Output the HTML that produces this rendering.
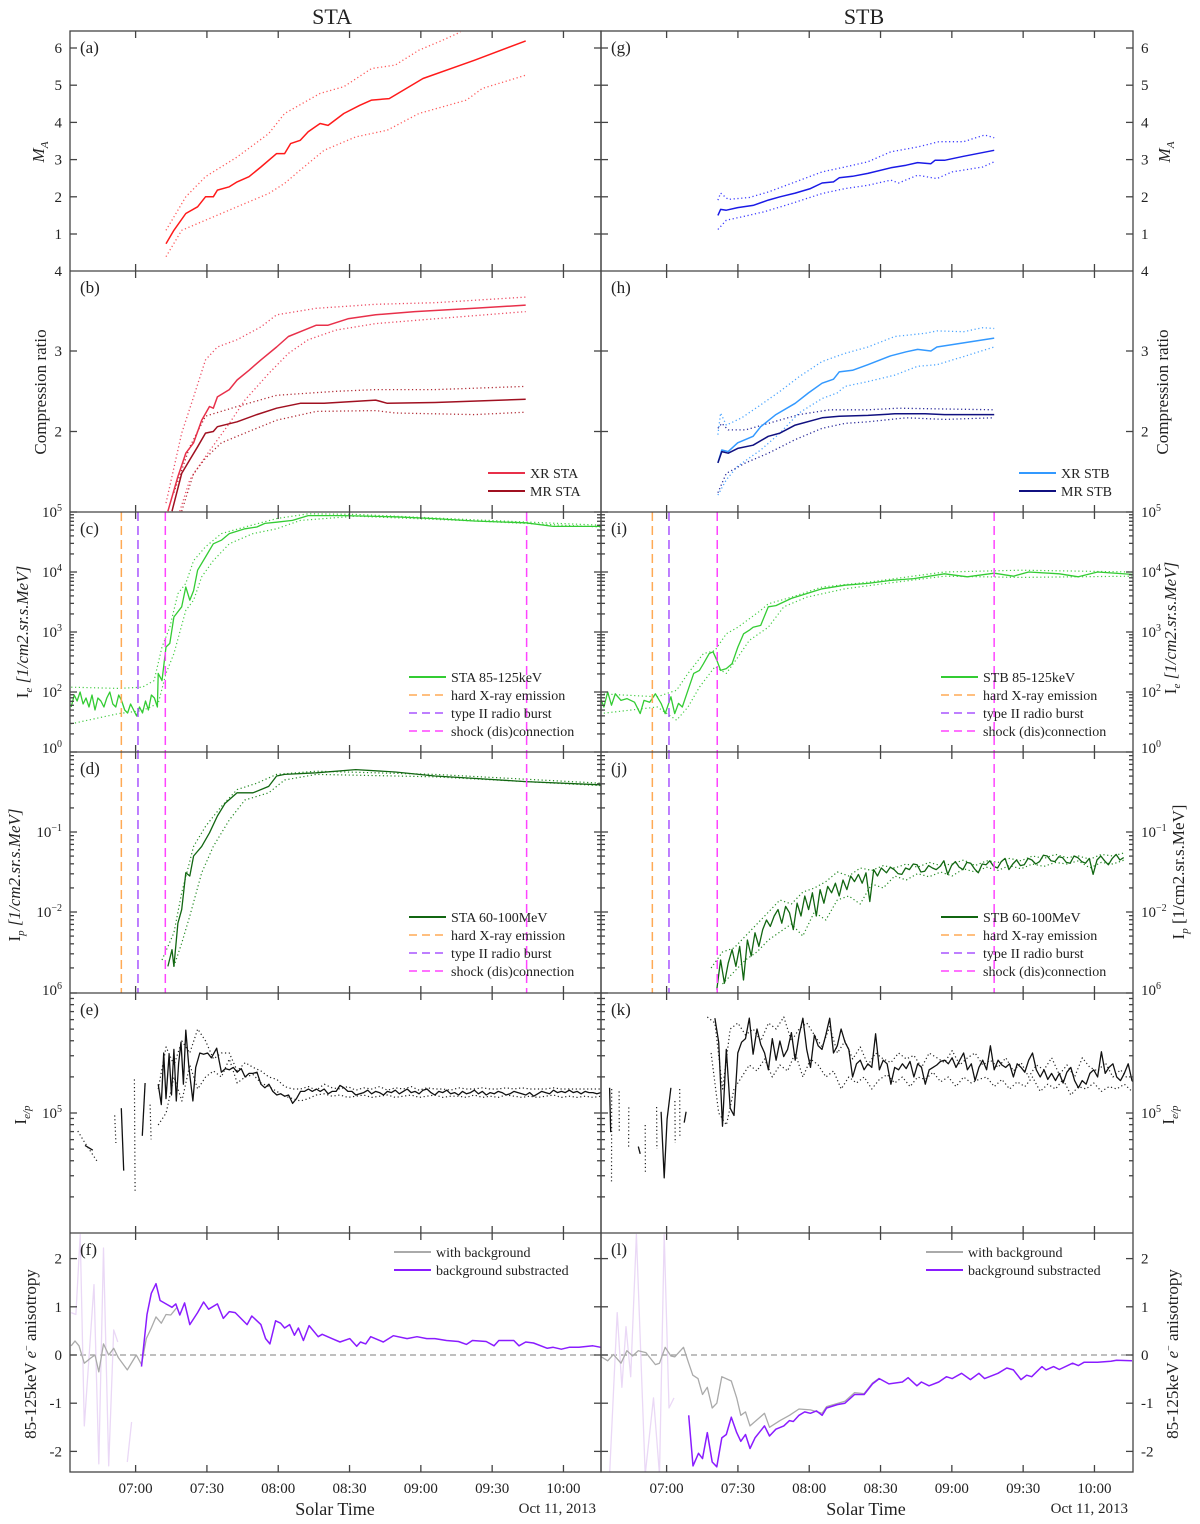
<!DOCTYPE html>
<html><head><meta charset="utf-8"><style>
html,body{margin:0;padding:0;background:#fff;}
svg{display:block;font-family:"Liberation Serif",serif;}
</style></head><body>
<svg id="fig" width="1200" height="1524" viewBox="0 0 1200 1524" xmlns="http://www.w3.org/2000/svg">
<rect x="0" y="0" width="1200" height="1524" fill="#fff"/>
</svg>
<script>
// ---- axis constants ----
const T0=32.4, PX=2.377, LX=70, RX=601;
// ---- event times (minutes after 06:00) ----
const staEvents=[54,61,72.5,224.5];
const stbEvents=[54,61,81.3,197.8];
const xTicks=[60,90,120,150,180,210,240];
const xTickLabels=["07:00","07:30","08:00","08:30","09:00","09:30","10:00"];
// ---- (a) STA Mach ----
const staMaT=[72.8,76.1,81.1,86.1,89.4,92.7,94.4,99.4,102.7,107.7,112.7,119.3,122.7,125.2,129.3,132.6,137.6,141,147.6,154.3,159.3,166.7,180.9,202.5,224.1];
const staMaV=[0.74,1.1,1.55,1.73,2.0,2.0,2.18,2.27,2.4,2.54,2.8,3.16,3.16,3.43,3.52,3.75,3.97,3.92,4.24,4.46,4.6,4.64,5.18,5.67,6.19];
const staMaUpT=[72.8,81.1,89.4,102.7,116,122.7,137.6,147.6,159.3,169.2,179.2,189.2,196.7];
const staMaUpV=[1.1,2.0,2.54,3.07,3.7,4.24,4.78,4.96,5.45,5.54,5.94,6.21,6.43];
const staMaLoT=[72.8,79.4,89.4,102.7,116,122.7,129.3,139.3,152.6,165.9,179.2,199.2,205.8,224.1];
const staMaLoV=[0.39,1.1,1.37,1.73,2.09,2.36,2.72,3.25,3.61,3.79,4.24,4.6,4.91,5.27];
// ---- (g) STB Mach ----
const stbMaT=[81.6,82.7,85.1,89.9,96.4,102.8,107.7,114.1,120.5,125.4,130.2,132.6,138.2,144.7,154.3,160.8,165.6,171.2,172.9,176.9,184.9,197.8];
const stbMaV=[1.5,1.66,1.64,1.71,1.77,1.91,2.0,2.1,2.22,2.37,2.4,2.51,2.55,2.63,2.78,2.85,2.92,2.89,2.98,2.98,3.09,3.25];
const stbMaUpT=[81.6,82.7,85.9,94.8,102.8,112.5,125.4,135,144.7,154.3,165.6,174.5,184.9,193.8,197.8];
const stbMaUpV=[1.91,2.1,1.93,1.98,2.13,2.36,2.67,2.8,2.94,3.21,3.34,3.48,3.48,3.66,3.59];
const stbMaLoT=[81.6,85.1,91.6,101.2,112.5,125.4,135,144.7,154.3,157.6,165.6,173.7,180.1,193,197.8];
const stbMaLoV=[1.12,1.37,1.46,1.6,1.82,2.09,2.22,2.31,2.45,2.37,2.58,2.49,2.67,2.8,2.94];
// ---- (b) STA compression ----
const staXrT=[73.6,77.8,81.1,84.4,87.8,91.1,92.7,94.4,99.4,102.7,107.7,112.7,119.3,124.3,129.3,136,141,149.3,161,177.5,202.5,224.1];
const staXrV=[1.01,1.44,1.73,1.86,2.14,2.31,2.29,2.43,2.52,2.64,2.76,2.89,3.05,3.18,3.24,3.32,3.32,3.4,3.45,3.49,3.53,3.57];
const staXrUpT=[72.8,79.4,84.4,89.4,94.4,102.7,112.7,119.3,136,161,185.9,224.1];
const staXrUpV=[1.11,1.98,2.43,2.89,3.05,3.14,3.3,3.45,3.53,3.58,3.6,3.67];
const staXrLoT=[78.6,82.8,89.4,99.4,106,116,124.3,132.6,144.3,161,185.9,224.1];
const staXrLoV=[1.01,1.4,1.69,2.1,2.39,2.72,2.97,3.14,3.26,3.34,3.4,3.49];
const staMrT=[75.3,79.4,82.8,86.1,89.4,92.7,94.4,102.7,111,119.3,129.3,139.3,161,165.9,185.9,224.1];
const staMrV=[1.01,1.48,1.65,1.81,1.98,2.0,2.06,2.12,2.21,2.29,2.35,2.35,2.39,2.35,2.36,2.4];
const staMrUpT=[76.1,82.8,89.4,102.7,119.3,144.3,161,185.9,224.1];
const staMrUpV=[1.24,1.81,2.19,2.31,2.45,2.5,2.52,2.52,2.56];
const staMrLoT=[79.4,84.4,89.4,96.1,106,119.3,136,161,169.2,202.5,224.1];
const staMrLoV=[1.01,1.48,1.67,1.86,1.98,2.14,2.25,2.26,2.23,2.21,2.24];
// ---- (h) STB compression ----
const stbXrT=[81.6,83.2,85.9,89.9,96.4,99.6,106,114.1,119.7,125.4,130.2,132.6,138.2,144.7,154.3,160.8,165.6,171.2,173.7,184.9,197.8];
const stbXrV=[1.61,1.77,1.75,1.86,1.94,2.06,2.21,2.35,2.48,2.6,2.65,2.74,2.76,2.83,2.94,2.99,3.02,3.0,3.05,3.1,3.16];
const stbXrUpT=[81.6,82.7,85.1,91.6,99.6,107.7,115.7,125.4,135,144.7,156,168.8,173.7,184.9,193,197.8];
const stbXrUpV=[1.96,2.23,2.08,2.17,2.33,2.5,2.68,2.87,2.97,3.05,3.18,3.22,3.25,3.24,3.29,3.28];
const stbXrLoT=[81.6,85.1,89.9,99.6,107.7,115.7,125.4,131.8,135,144.7,156,165.6,173.7,184.9,197.8];
const stbXrLoV=[1.21,1.4,1.57,1.77,1.98,2.23,2.41,2.48,2.56,2.62,2.7,2.81,2.83,2.93,3.05];
const stbMrT=[81.6,83.2,85.9,89.9,96.4,102.8,107.7,114.1,125.4,132.6,144.7,156,168.8,176.9,197.8];
const stbMrV=[1.61,1.75,1.73,1.79,1.83,1.94,1.98,2.08,2.17,2.19,2.2,2.22,2.22,2.21,2.21];
const stbMrUpT=[81.6,83.2,85.9,93.2,102.8,115.7,128.6,144.7,157.6,197.8];
const stbMrUpV=[2.04,2.1,2.02,2.02,2.1,2.21,2.27,2.27,2.29,2.27];
const stbMrLoT=[81.6,85.1,93.2,102.8,114.1,125.4,135,144.7,160.8,176.9,197.8];
const stbMrLoV=[1.24,1.48,1.61,1.73,1.9,2.04,2.1,2.12,2.17,2.15,2.17];
// ---- (c) STA electrons, log10 ----
const staIeBaseT0=32.9, staIeBaseDt=1.25;
const staIeBaseV=[1.75,1.95,1.85,2.0,1.8,1.9,1.75,1.95,1.7,1.9,1.85,1.75,1.9,2.0,1.8,1.75,1.95,1.85,1.7,1.65,1.8,1.7,1.6,1.75,1.65,1.85,1.7,1.95,1.9,1.75];
const staIeT=[69.5,71.1,72.8,74.4,76.1,79.4,81.1,82.8,84.4,86.1,89.4,92.7,96.1,99.4,106,111,114.4,119.3,126,132.6,147.6,169.2,185.9,202.5,224.1,235.7,255.7];
const staIeV=[2.31,2.19,2.75,2.81,3.25,3.42,3.75,3.53,3.69,4.03,4.25,4.47,4.53,4.64,4.72,4.75,4.81,4.83,4.86,4.94,4.94,4.92,4.89,4.85,4.82,4.76,4.76];
const staIeUpT=[32.9,52.8,62.8,67.8,71.1,74.4,77.8,81.1,84.4,89.4,96.1,106,119.3,132.6,152.6,202.5,255.7];
const staIeUpV=[2.08,2.06,2.08,2.19,2.75,3.08,3.64,3.81,4.19,4.42,4.64,4.75,4.89,4.97,4.96,4.87,4.78];
const staIeLoT=[32.9,52.8,62.8,69.5,72.8,76.1,81.1,84.4,87.8,92.7,99.4,109.4,119.3,129.3,152.6,202.5,255.7];
const staIeLoV=[1.47,1.64,1.69,1.81,2.31,2.64,3.36,3.53,3.92,4.19,4.47,4.64,4.72,4.86,4.93,4.85,4.75];
// ---- (i) STB electrons ----
const stbIeT=[32,33.6,35.2,36.8,38.4,40.8,43.3,46.5,48.9,50.5,52.9,55.3,57.7,59.4,61.8,63.4,65,66.6,69,71.4,73.8,75.5,77.9,79.5,81.1,82.7,85.1,87.5,90,92.4,94.8,96.4,99.6,102.8,106,112.5,118.9,125.4,135,144.7,154.3,164,176.9,186.5,197.8,205.9,212.3,225.2,233.2,241.3,255.8];
const stbIeV=[1.92,1.75,2.0,1.78,1.97,1.86,1.89,1.83,1.64,1.86,1.83,1.97,1.81,1.64,1.92,1.64,1.81,1.75,2.03,2.31,2.36,2.47,2.64,2.67,2.53,2.36,2.39,2.47,2.75,2.97,3.03,3.08,3.11,3.42,3.44,3.56,3.64,3.72,3.78,3.81,3.86,3.89,3.97,3.92,3.98,3.93,4.0,3.97,3.92,4.0,3.96];
const stbIeUpT=[32,56.1,64.2,69,75.5,80.3,85.1,90,99.6,102.8,112.5,125.4,144.7,176.9,209,255.8];
const stbIeUpV=[1.97,1.92,2.03,2.31,2.64,2.69,2.97,3.08,3.36,3.47,3.58,3.75,3.83,4.0,4.03,4.0];
const stbIeLoT=[32,56.1,64.2,69,73.8,80.3,85.1,90,94.8,102.8,109.3,118.9,135,154.3,176.9,209,255.8];
const stbIeLoV=[1.64,1.75,1.53,1.75,2.08,2.42,2.31,2.58,2.86,3.08,3.42,3.58,3.72,3.82,3.93,3.91,3.93];
// ---- (d) STA protons, log10 ----
const staIpT=[73.6,75.3,76.1,77.8,79.4,81.1,82.8,84.4,87.8,91.1,94.4,97.7,102.7,109.4,116,119.3,122.7,136,152.6,169.2,185.9,202.5,224.1,255.7];
const staIpV=[-2.68,-2.47,-2.68,-2.14,-1.97,-1.51,-1.55,-1.3,-1.18,-1.01,-0.8,-0.64,-0.51,-0.51,-0.43,-0.3,-0.28,-0.26,-0.22,-0.25,-0.3,-0.33,-0.37,-0.41];
const staIpUpT=[71.1,76.1,79.4,84.4,89.4,96.1,102.7,111,119.3,136,185.9,255.7];
const staIpUpV=[-2.6,-2.26,-1.76,-1.18,-0.93,-0.68,-0.47,-0.39,-0.28,-0.24,-0.28,-0.39];
const staIpLoT=[76.1,79.4,82.8,87.8,92.7,99.4,106,116,122.7,136,185.9,255.7];
const staIpLoV=[-2.68,-2.39,-2.05,-1.51,-1.18,-0.85,-0.6,-0.51,-0.35,-0.28,-0.31,-0.42];
// ---- (j) STB protons ----
const stbIpAT0=81.1, stbIpADt=1.61;
const stbIpAV=[-2.97,-2.6,-2.89,-2.64,-2.47,-2.68,-2.43,-2.85,-2.35,-2.55,-2.26,-2.43,-2.22,-2.1,-2.18,-2.05,-1.97,-2.14,-1.93,-2.01,-2.22,-1.89,-2.05,-1.8,-1.97,-1.76,-2.05,-1.72,-1.89,-1.68,-1.76,-1.64,-1.8,-1.6,-1.72,-1.55,-1.62,-1.53,-1.64,-1.51,-1.87,-1.47,-1.55,-1.45];
const stbIpBT0=152.5, stbIpBDt=1.61;
const stbIpBV=[-1.51,-1.44,-1.47,-1.52,-1.53,-1.45,-1.47,-1.4,-1.41,-1.5,-1.49,-1.42,-1.45,-1.47,-1.43,-1.36,-1.53,-1.42,-1.37,-1.44,-1.47,-1.38,-1.39,-1.46,-1.51,-1.4,-1.41,-1.36,-1.43,-1.45,-1.37,-1.33,-1.47,-1.4,-1.35,-1.42,-1.41,-1.33,-1.35,-1.4,-1.37,-1.29,-1.3,-1.36,-1.37,-1.31,-1.32,-1.38,-1.39,-1.3,-1.32,-1.37,-1.39,-1.33,-1.53,-1.35,-1.3,-1.36,-1.41,-1.33,-1.28,-1.35,-1.32];
const stbIpUpT0=78.7, stbIpUpDt=4.83;
const stbIpUpV=[-2.7,-2.5,-2.45,-2.3,-2.15,-2.0,-1.85,-1.9,-1.75,-1.7,-1.62,-1.5,-1.55,-1.45,-1.48,-1.42,-1.45,-1.4,-1.44,-1.38,-1.42,-1.4,-1.35,-1.42,-1.36,-1.38,-1.33,-1.36,-1.3,-1.33,-1.28,-1.32,-1.3,-1.34,-1.28,-1.3,-1.26];
const stbIpLoT0=83.5, stbIpLoDt=4.83;
const stbIpLoV=[-2.9,-2.75,-2.6,-2.5,-2.35,-2.25,-2.15,-2.3,-2.0,-2.1,-1.85,-1.8,-1.9,-1.65,-1.7,-1.55,-1.6,-1.52,-1.56,-1.5,-1.55,-1.46,-1.5,-1.44,-1.48,-1.42,-1.46,-1.4,-1.43,-1.38,-1.4,-1.36,-1.45,-1.38,-1.4,-1.35];
// ---- (e) STA ratio, log10 ----
const staReAT=[69.5,70.8,71.8,72.8,74.1,75.1,76.1,77.1,78.1,79.1,80.1,81.1,82.4,84.1,85.3,87,88.6,90.3,91.9,94.1];
const staReAV=[5.24,5.07,5.5,5.12,5.49,5.15,5.53,5.1,5.41,5.59,5.24,5.69,5.38,5.1,5.38,5.5,5.49,5.5,5.46,5.54];
const staReBT0=96.1, staReBDt=1.663;
const staReBV=[5.34,5.37,5.36,5.38,5.34,5.37,5.3,5.33,5.33,5.34,5.24,5.21,5.24,5.18,5.15,5.16,5.14,5.15,5.08,5.12,5.18,5.18,5.2,5.18,5.2,5.18,5.2,5.16,5.18,5.18,5.23,5.21,5.18,5.18,5.15,5.16,5.17,5.19,5.16,5.18,5.17,5.15,5.18,5.17,5.19,5.16,5.18,5.2,5.17,5.18,5.16,5.19,5.2,5.17,5.15,5.18,5.17,5.19,5.16,5.17,5.15,5.18,5.16,5.17,5.19,5.16,5.18,5.15,5.17,5.16,5.18,5.17,5.15,5.16,5.18,5.17,5.16,5.15,5.17,5.14,5.16,5.18,5.17,5.16,5.19,5.17,5.18,5.17,5.19,5.17,5.18,5.16,5.18,5.17,5.17,5.16,5.17];
const staReUpT0=69.5, staReUpDt=3.326;
const staReUpV=[5.2,5.55,5.4,5.6,5.5,5.7,5.6,5.45,5.5,5.5,5.35,5.42,5.38,5.35,5.3,5.28,5.22,5.2,5.2,5.22,5.19,5.24,5.21,5.2,5.22,5.19,5.21,5.2,5.22,5.19,5.21,5.2,5.22,5.19,5.21,5.2,5.2,5.19,5.21,5.2,5.2,5.21,5.2,5.2,5.21,5.2,5.21,5.2,5.2,5.2,5.21,5.2,5.2,5.2,5.2,5.2,5.2];
const staReLoV=[4.9,5.0,5.3,5.1,5.4,5.2,5.3,5.35,5.3,5.45,5.25,5.3,5.32,5.25,5.22,5.18,5.14,5.12,5.1,5.12,5.15,5.16,5.14,5.15,5.13,5.14,5.15,5.13,5.14,5.15,5.13,5.14,5.15,5.13,5.14,5.15,5.13,5.14,5.14,5.13,5.15,5.13,5.14,5.13,5.15,5.14,5.13,5.14,5.13,5.14,5.15,5.13,5.14,5.13,5.14,5.13,5.14];
const staReFragT=[[38.7,42.0],[54.0,55.0],[62.8,64.0]];
const staReFragV=[[4.73,4.69],[5.04,4.52],[4.81,5.25]];
const staReDotFragT=[[35.7,38.7,43.7],[51.2,51.7],[59.5,59.8],[66.1,66.5]];
const staReDotFragV=[[4.85,4.75,4.6],[4.98,4.75],[5.28,4.34],[5.07,4.78]];
// ---- (k) STB ratio ----
const stbReT0=80.3, stbReDt=1.61;
const stbReV=[5.79,5.59,4.89,5.53,5.04,4.98,5.5,5.59,5.62,5.79,5.49,5.7,5.57,5.5,5.36,5.62,5.44,5.6,5.47,5.53,5.67,5.44,5.65,5.79,5.53,5.38,5.65,5.56,5.53,5.65,5.79,5.5,5.56,5.7,5.59,5.53,5.3,5.41,5.44,5.36,5.41,5.38,5.66,5.36,5.44,5.41,5.24,5.38,5.36,5.41,5.37,5.43,5.3,5.41,5.38,5.24,5.36,5.38,5.4,5.43,5.44,5.41,5.46,5.38,5.44,5.5,5.36,5.41,5.27,5.38,5.44,5.36,5.56,5.36,5.44,5.4,5.38,5.41,5.3,5.41,5.38,5.34,5.44,5.5,5.36,5.3,5.36,5.28,5.33,5.27,5.33,5.25,5.34,5.38,5.27,5.21,5.27,5.24,5.33,5.36,5.3,5.51,5.33,5.38,5.41,5.3,5.27,5.33,5.41,5.27,5.24];
const stbReUpT0=77.1, stbReUpDt=3.22;
const stbReUpV=[5.8,5.75,5.2,5.7,5.75,5.65,5.7,5.6,5.75,5.7,5.8,5.6,5.7,5.75,5.65,5.55,5.72,5.5,5.6,5.45,5.55,5.4,5.5,5.45,5.42,5.5,5.45,5.48,5.38,5.5,5.46,5.42,5.52,5.4,5.46,5.5,5.4,5.44,5.38,5.46,5.35,5.42,5.3,5.4,5.36,5.46,5.32,5.4,5.3,5.46,5.38,5.35,5.42,5.3,5.36,5.28];
const stbReLoT0=78.7, stbReLoDt=3.22;
const stbReLoV=[5.5,5.0,4.9,5.2,5.3,5.4,5.35,5.45,5.3,5.4,5.35,5.5,5.3,5.45,5.4,5.3,5.35,5.2,5.3,5.25,5.3,5.2,5.28,5.32,5.25,5.3,5.22,5.3,5.28,5.34,5.26,5.3,5.22,5.3,5.25,5.28,5.3,5.22,5.28,5.2,5.26,5.22,5.3,5.18,5.24,5.2,5.28,5.15,5.22,5.2,5.25,5.18,5.22,5.2,5.24,5.18];
const stbReFragT=[[36.0,36.5],[48.1,48.9],[57.7,59.0,60.2,61.8],[67.4,68.2]];
const stbReFragV=[[5.21,4.84],[4.72,4.66],[5.01,4.46,4.95,5.21],[4.92,5.01]];
const stbReDotFragT=[[36.8,36.9],[40.0,40.1],[44.0,44.1],[51.0,51.1],[55.8,55.9],[63.5,63.6],[65.5,65.6]];
const stbReDotFragV=[[4.43,5.21],[5.18,4.84],[4.72,5.05],[4.9,4.5],[5.05,4.7],[5.1,4.75],[5.2,4.8]];
// ---- (f) STA anisotropy ----
const staAnT=[62.5,64.8,66.6,68.6,70.3,72.8,75.3,76.9,78.6,80.6,82.8,86.1,88.6,90.7,94.4,96.9,99.4,101.9,106.9,108.9,112.7,114.7,116.5,118.9,121,122.7,124.8,126.8,128.5,130.6,133,136.8,138.5,142.6,146,150.1,153,154.6,156.8,158.9,164.2,168.4,174.2,178.4,182.5,185.9,190.8,195.8,199.2,201.7,207.5,210.8,212.8,219.1,221.3,224.1,227.4,233.2,235.7,239.1,242.4,246.5,252.4,255.7];
const staAnV=[-0.24,0.84,1.28,1.48,1.13,1.06,0.99,1.06,0.83,1.08,0.63,0.88,1.1,0.95,1.06,0.76,0.9,0.88,0.63,0.81,0.63,0.34,0.23,0.71,0.66,0.56,0.63,0.41,0.56,0.3,0.61,0.38,0.43,0.34,0.27,0.34,0.18,0.27,0.23,0.38,0.27,0.4,0.34,0.38,0.34,0.34,0.3,0.28,0.22,0.3,0.28,0.19,0.3,0.3,0.19,0.27,0.25,0.14,0.16,0.12,0.16,0.16,0.19,0.16];
const staAnBgT=[32.9,34.5,36.2,38.4,41.2,42.9,44.5,46.5,48.7,50.8,52.8,56.5,60.3,62.5,64.5,66.6,68.6,70.8,72.8,74.8,77.4];
const staAnBgV=[0.19,0.29,0.19,-0.17,-0.06,0,-0.35,0.23,0,0.14,-0.06,-0.31,0,-0.2,0.34,0.56,0.79,0.66,0.84,0.83,0.99];
const staAnRawT=[32.9,34.9,36.7,38.4,42.5,44.5,46.5,48.7,50.8,52.5];
const staAnRawV=[0.88,0.84,2.5,-1.47,1.46,-2.26,2.22,-2.3,0.52,0.27];
const staAnRaw2T=[56.5,58.3];
const staAnRaw2V=[-2.22,-1.39];
// ---- (l) STB anisotropy ----
const stbAnT=[69.3,71.1,73.4,75.1,77.1,79.2,81.1,83.2,85.1,87.2,89.5,91.2,93.2,95.1,97.2,99.6,101.2,103.3,106,109.3,111.7,113.3,115.7,118.1,120.5,123,125.4,127.3,131.8,135,139.1,143.1,146.6,149.5,153.5,159.2,161.6,165.3,167.2,170.4,174.5,177.7,180.1,184.1,187.8,191.4,193.8,199.4,203.1,205.9,209.1,211.5,213.6,217.9,219.6,222.8,225.2,230.8,233.2,235.7,241.3,246.9,249.3,255.8];
const stbAnV=[-1.25,-2.3,-2.04,-2.15,-1.61,-2.22,-2.32,-1.72,-1.65,-1.29,-1.61,-1.79,-1.65,-1.94,-1.72,-1.57,-1.47,-1.68,-1.54,-1.47,-1.36,-1.38,-1.25,-1.18,-1.21,-1.16,-1.25,-1.1,-1.03,-1.0,-0.82,-0.82,-0.6,-0.49,-0.6,-0.56,-0.47,-0.64,-0.56,-0.64,-0.56,-0.45,-0.49,-0.38,-0.51,-0.38,-0.49,-0.38,-0.27,-0.31,-0.51,-0.42,-0.45,-0.24,-0.31,-0.24,-0.3,-0.17,-0.22,-0.15,-0.15,-0.13,-0.11,-0.12];
const stbAnBgT=[32,35.2,37.6,40.8,43.3,45.7,48.1,51.3,55.3,57,59.4,61.8,63.4,67.1,69.3,71,73.2,75.1,77.1,79.2,81.1,83.2,87.2,89.5,91.2,93.2,95.1,101.2,103.3,107.7,111.7,115.7,120.5,125.4,127.3,135,139.1,143.1,146.6,149.5];
const stbAnBgV=[-0.02,-0.12,0.01,-0.17,0.09,-0.02,0.09,0.05,-0.2,-0.17,0.16,-0.02,-0.04,0.16,-0.17,-0.42,-0.49,-0.82,-0.67,-1.1,-1.0,-0.45,-0.54,-0.89,-1.25,-1.18,-1.47,-1.21,-1.5,-1.36,-1.25,-1.12,-1.14,-1.21,-1.07,-0.96,-0.78,-0.8,-0.58,-0.48];
const stbAnRawT=[36,39.2,41.2,42.9,44.9,47.3,51,54.5,57,59,61,63.1];
const stbAnRawV=[-2.48,0.88,-0.67,0.59,-0.45,2.5,-2.48,-0.89,-2.48,2.5,-1.1,-0.89];
const yTicksA=[1,2,3,4,5,6];
const yTicksB=[2,3];
const yTicksF=[-2,-1,0,1,2];

// ================= drawing =================
const NS="http://www.w3.org/2000/svg";
const svg=document.getElementById('fig');
const ROW=[31,271,512,752,993,1233,1472];
function X(s,t){return (s?RX:LX)+(t-T0)*PX;}
const Y=[
 v=>271.2-37.2*v,
 v=>512-(v-1)*80.5,
 L=>752-(L-1)*60,
 L=>752-L*80,
 L=>1233-(L-4)*120,
 v=>1355-v*48.2
];
function mk(tag,attrs,parent){const e=document.createElementNS(NS,tag);for(const k in attrs)e.setAttribute(k,attrs[k]);(parent||svg).appendChild(e);return e;}
function pair(ts,vs){return ts.map((t,i)=>[t,vs[i]]);}
function reg(t0,dt,vs){return vs.map((v,i)=>[t0+i*dt,v]);}
const defs=mk('defs',{});
for(let s=0;s<2;s++)for(let r=0;r<6;r++){
 const cp=mk('clipPath',{id:'c'+s+r},defs);
 mk('rect',{x:s?RX:LX,y:ROW[r],width:s?532:531,height:ROW[r+1]-ROW[r]},cp);
}
function line(s,r,p,color,w,dash,name){
 const d=p.map((q,i)=>(i?'L':'M')+X(s,q[0]).toFixed(1)+','+Y[r](q[1]).toFixed(1)).join('');
 const el=mk('path',{d:d,fill:'none',stroke:color,'stroke-width':w,'clip-path':'url(#c'+s+r+')','stroke-linejoin':'round'});
 if(dash)el.setAttribute('stroke-dasharray',dash);
 
 
 return el;
}
function txt(x,y,str,size,anchor,extra){
 const e=mk('text',Object.assign({x:x,y:y,'font-size':size,'text-anchor':anchor||'start',fill:'#222'},extra||{}));
 e.innerHTML=str;return e;
}
const DOT='1.2 2.6';
line(0,0,pair(staMaUpT,staMaUpV),'#ff5a5a',1.3,DOT,'sta-mach-upper');
line(0,0,pair(staMaLoT,staMaLoV),'#ff5a5a',1.3,DOT,'sta-mach-lower');
line(0,0,pair(staMaT,staMaV),'#ff1a1a',1.5,null,'sta-mach-line');
line(1,0,pair(stbMaUpT,stbMaUpV),'#3a3aff',1.3,DOT,'stb-mach-upper');
line(1,0,pair(stbMaLoT,stbMaLoV),'#3a3aff',1.3,DOT,'stb-mach-lower');
line(1,0,pair(stbMaT,stbMaV),'#1a1ae6',1.5,null,'stb-mach-line');
line(0,1,pair(staXrUpT,staXrUpV),'#ec4a62',1.3,DOT,'sta-xr-upper');
line(0,1,pair(staXrLoT,staXrLoV),'#ec4a62',1.3,DOT,'sta-xr-lower');
line(0,1,pair(staMrUpT,staMrUpV),'#b02a34',1.3,DOT,'sta-mr-upper');
line(0,1,pair(staMrLoT,staMrLoV),'#b02a34',1.3,DOT,'sta-mr-lower');
line(0,1,pair(staXrT,staXrV),'#e8304a',1.5,null,'sta-xr-line');
line(0,1,pair(staMrT,staMrV),'#a01020',1.5,null,'sta-mr-line');
line(1,1,pair(stbXrUpT,stbXrUpV),'#4aa4ff',1.3,DOT,'stb-xr-upper');
line(1,1,pair(stbXrLoT,stbXrLoV),'#4aa4ff',1.3,DOT,'stb-xr-lower');
line(1,1,pair(stbMrUpT,stbMrUpV),'#2a2a9a',1.3,DOT,'stb-mr-upper');
line(1,1,pair(stbMrLoT,stbMrLoV),'#2a2a9a',1.3,DOT,'stb-mr-lower');
line(1,1,pair(stbXrT,stbXrV),'#3399ff',1.5,null,'stb-xr-line');
line(1,1,pair(stbMrT,stbMrV),'#101080',1.5,null,'stb-mr-line');
line(0,2,pair(staIeUpT,staIeUpV),'#44cc44',1.2,DOT,'sta-ie-upper');
line(0,2,pair(staIeLoT,staIeLoV),'#44cc44',1.2,DOT,'sta-ie-lower');
line(0,2,reg(staIeBaseT0,staIeBaseDt,staIeBaseV).concat(pair(staIeT,staIeV)),'#33cc33',1.3,null,'sta-ie-line');
line(1,2,pair(stbIeUpT,stbIeUpV),'#44cc44',1.2,DOT,'stb-ie-upper');
line(1,2,pair(stbIeLoT,stbIeLoV),'#44cc44',1.2,DOT,'stb-ie-lower');
line(1,2,pair(stbIeT,stbIeV),'#33cc33',1.3,null,'stb-ie-line');
line(0,3,pair(staIpUpT,staIpUpV),'#228822',1.2,DOT,'sta-ip-upper');
line(0,3,pair(staIpLoT,staIpLoV),'#228822',1.2,DOT,'sta-ip-lower');
line(0,3,pair(staIpT,staIpV),'#116611',1.3,null,'sta-ip-line');
line(1,3,reg(stbIpUpT0,stbIpUpDt,stbIpUpV),'#228822',1.2,DOT,'stb-ip-upper');
line(1,3,reg(stbIpLoT0,stbIpLoDt,stbIpLoV),'#228822',1.2,DOT,'stb-ip-lower');
line(1,3,reg(stbIpAT0,stbIpADt,stbIpAV).concat(reg(stbIpBT0,stbIpBDt,stbIpBV)),'#116611',1.3,null,'stb-ip-line');
line(0,4,reg(staReUpT0,staReUpDt,staReUpV),'#222',1.2,DOT,'sta-ratio-upper');
line(0,4,reg(staReUpT0,staReUpDt,staReLoV),'#222',1.2,DOT,'sta-ratio-lower');
line(0,4,pair(staReAT,staReAV).concat(reg(staReBT0,staReBDt,staReBV)),'#111',1.3,null,'sta-ratio-line');
staReFragT.forEach((ts,i)=>line(0,4,pair(ts,staReFragV[i]),'#111',1.3,null,'sta-ratio-fragment'));
staReDotFragT.forEach((ts,i)=>line(0,4,pair(ts,staReDotFragV[i]),'#222',1.2,DOT,'sta-ratio-dotted-fragment'));
line(1,4,reg(stbReUpT0,stbReUpDt,stbReUpV),'#222',1.2,DOT,'stb-ratio-upper');
line(1,4,reg(stbReLoT0,stbReLoDt,stbReLoV),'#222',1.2,DOT,'stb-ratio-lower');
line(1,4,reg(stbReT0,stbReDt,stbReV),'#111',1.3,null,'stb-ratio-line');
stbReFragT.forEach((ts,i)=>line(1,4,pair(ts,stbReFragV[i]),'#111',1.3,null,'stb-ratio-fragment'));
stbReDotFragT.forEach((ts,i)=>line(1,4,pair(ts,stbReDotFragV[i]),'#222',1.2,DOT,'stb-ratio-dotted-fragment'));
for(let s=0;s<2;s++){const z=mk('line',{x1:s?RX:LX,x2:s?1133:601,y1:Y[5](0),y2:Y[5](0),stroke:'#999','stroke-width':1.3,'stroke-dasharray':'6 4'});}
line(0,5,pair(staAnRawT,staAnRawV),'#ead8f6',1.3,null,'sta-anis-raw');
line(0,5,pair(staAnRaw2T,staAnRaw2V),'#ead8f6',1.3,null,'sta-anis-raw-2');
line(0,5,pair(staAnBgT,staAnBgV),'#aaaaaa',1.3,null,'sta-anis-with-background');
line(0,5,pair(staAnT,staAnV),'#8a1cff',1.5,null,'sta-anis-subtracted');
line(1,5,pair(stbAnRawT,stbAnRawV),'#ead8f6',1.3,null,'stb-anis-raw');
line(1,5,pair(stbAnBgT,stbAnBgV),'#aaaaaa',1.3,null,'stb-anis-with-background');
line(1,5,pair(stbAnT,stbAnV),'#8a1cff',1.5,null,'stb-anis-subtracted');
const evCol=['#ffaa55','#a855ff','#ff44ff','#ff44ff'];
[staEvents,stbEvents].forEach((ev,s)=>ev.forEach((t,i)=>{
 const l=mk('line',{x1:X(s,t),x2:X(s,t),y1:ROW[2],y2:ROW[4],stroke:evCol[i],'stroke-width':1.5,'stroke-dasharray':'9 5'});
 
 
}));
const ax=mk('g',{stroke:'#444','stroke-width':1.3,fill:'none'});


for(let s=0;s<2;s++){
 const x0=s?RX:LX,x1=s?1133:601;
 mk('rect',{x:x0,y:ROW[0],width:x1-x0,height:ROW[6]-ROW[0]},ax);
 for(let r=1;r<6;r++)mk('line',{x1:x0,x2:x1,y1:ROW[r],y2:ROW[r]},ax);
 for(let r=0;r<6;r++){
  xTicks.forEach(t=>{const x=X(s,t);mk('line',{x1:x,x2:x,y1:ROW[r],y2:ROW[r]+7},ax);mk('line',{x1:x,x2:x,y1:ROW[r+1],y2:ROW[r+1]-7},ax);});
  let maj=[],mn=[];
  if(r==0)maj=yTicksA; if(r==1)maj=yTicksB; if(r==5)maj=yTicksF;
  if(r==2){for(let d=1;d<5;d++){maj.push(d+1);for(let k=2;k<10;k++)mn.push(d+Math.log10(k));}}
  if(r==3){for(let d=-3;d<0;d++){maj.push(d+1);for(let k=2;k<10;k++)mn.push(d+Math.log10(k));}}
  if(r==4){for(let d=4;d<6;d++){maj.push(d+1);for(let k=2;k<10;k++)mn.push(d+Math.log10(k));}}
  maj.forEach(v=>{const y=Y[r](v);mk('line',{x1:x0,x2:x0+7,y1:y,y2:y},ax);mk('line',{x1:x1,x2:x1-7,y1:y,y2:y},ax);});
  mn.forEach(v=>{const y=Y[r](v);mk('line',{x1:x0,x2:x0+4,y1:y,y2:y},ax);mk('line',{x1:x1,x2:x1-4,y1:y,y2:y},ax);});
 }
}
const TS=15;
function ylab(s,y,str){ if(s==0)txt(62,y+5,str,TS,'end'); else txt(1141,y+5,str,TS,'start'); }
for(let s=0;s<2;s++){
 yTicksA.forEach(v=>ylab(s,Y[0](v),String(v)));
 ylab(s,271,'4');
 yTicksB.forEach(v=>ylab(s,Y[1](v),String(v)));
 ylab(s,512,'10<tspan font-size="10" dy="-6">5</tspan>');
 ylab(s,Y[2](4),'10<tspan font-size="10" dy="-6">4</tspan>');
 ylab(s,Y[2](3),'10<tspan font-size="10" dy="-6">3</tspan>');
 ylab(s,Y[2](2),'10<tspan font-size="10" dy="-6">2</tspan>');
 ylab(s,748,'10<tspan font-size="10" dy="-6">0</tspan>');
 ylab(s,Y[3](-1),'10<tspan font-size="10" dy="-6">−1</tspan>');
 ylab(s,Y[3](-2),'10<tspan font-size="10" dy="-6">−2</tspan>');
 ylab(s,990,'10<tspan font-size="10" dy="-6">6</tspan>');
 ylab(s,Y[4](5),'10<tspan font-size="10" dy="-6">5</tspan>');
 yTicksF.forEach(v=>ylab(s,Y[5](v),String(v)));
 xTicks.forEach((t,i)=>txt(X(s,t),1493,xTickLabels[i],TS,'middle'));
 const x0=s?RX:LX;
 txt(s?866:335,1515,'Solar Time',18,'middle');
 txt(s?1128:596,1513,'Oct 11, 2013',15,'end');
 ['abcdef','ghijkl'][s].split('').forEach((c,r)=>txt(x0+10,ROW[r]+22,'('+c+')',17,'start'));
}
txt(332,24,'STA',22,'middle');
txt(864,24,'STB',22,'middle');
function vlab(x,y,str,size){const e=txt(x,y,str,size||17,'middle',{transform:'rotate(-90 '+x+' '+y+')'});return e;}
vlab(44,152,'<tspan font-style="italic">M</tspan><tspan font-style="italic" font-size="11" dy="4">A</tspan>');
vlab(1170,152,'<tspan font-style="italic">M</tspan><tspan font-style="italic" font-size="11" dy="4">A</tspan>');
vlab(46,392,'Compression ratio');
vlab(1168,392,'Compression ratio');
vlab(28,632,'I<tspan font-style="italic" font-size="11" dy="4">e</tspan><tspan dy="-4">   </tspan><tspan font-style="italic">[1/cm2.sr.s.MeV]</tspan>');
vlab(1176,628,'I<tspan font-style="italic" font-size="11" dy="4">e</tspan><tspan dy="-4">   </tspan><tspan font-style="italic">[1/cm2.sr.s.MeV]</tspan>');
vlab(20,875,'I<tspan font-style="italic" font-size="11" dy="4">p</tspan><tspan dy="-4">   </tspan><tspan font-style="italic">[1/cm2.sr.s.MeV]</tspan>');
vlab(1184,872,'I<tspan font-style="italic" font-size="11" dy="4">p</tspan><tspan dy="-4"> [1/cm2.sr.s.MeV]</tspan>');
vlab(26,1115,'I<tspan font-style="italic" font-size="11" dy="4">e/p</tspan>');
vlab(1174,1115,'I<tspan font-style="italic" font-size="11" dy="4">e/p</tspan>');
vlab(36,1354,'85-125keV <tspan font-style="italic">e</tspan><tspan font-size="10" dy="-6">−</tspan><tspan dy="6"> anisotropy</tspan>');
vlab(1178,1354,'85-125keV <tspan font-style="italic">e</tspan><tspan font-size="10" dy="-6">−</tspan><tspan dy="6"> anisotropy</tspan>');
function legend(x,y,items,name){
 const g=mk('g',{});
 
 
 items.forEach((it,i)=>{
  const yy=y+i*18;
  const l=mk('line',{x1:x,x2:x+37,y1:yy-4,y2:yy-4,stroke:it[1],'stroke-width':it[2]?1.5:2},g);
  if(it[2])l.setAttribute('stroke-dasharray','8 5');
  const t=mk('text',{x:x+42,y:yy+1,'font-size':14,fill:'#222'},g);t.textContent=it[0];
 });
}
legend(488,477,[['XR STA','#e8304a'],['MR STA','#a01020']],'legend-b');
legend(1019,477,[['XR STB','#3399ff'],['MR STB','#101080']],'legend-h');
const ev=[['hard X-ray emission','#ffaa55',1],['type II radio burst','#a855ff',1],['shock (dis)connection','#ff44ff',1]];
legend(409,681,[['STA 85-125keV','#33cc33']].concat(ev),'legend-c');
legend(941,681,[['STB 85-125keV','#33cc33']].concat(ev),'legend-i');
legend(409,921,[['STA 60-100MeV','#116611']].concat(ev),'legend-d');
legend(941,921,[['STB 60-100MeV','#116611']].concat(ev),'legend-j');
legend(394,1256,[['with background','#aaaaaa'],['background substracted','#8a1cff']],'legend-f');
legend(926,1256,[['with background','#aaaaaa'],['background substracted','#8a1cff']],'legend-l');
</script>
</body></html>
